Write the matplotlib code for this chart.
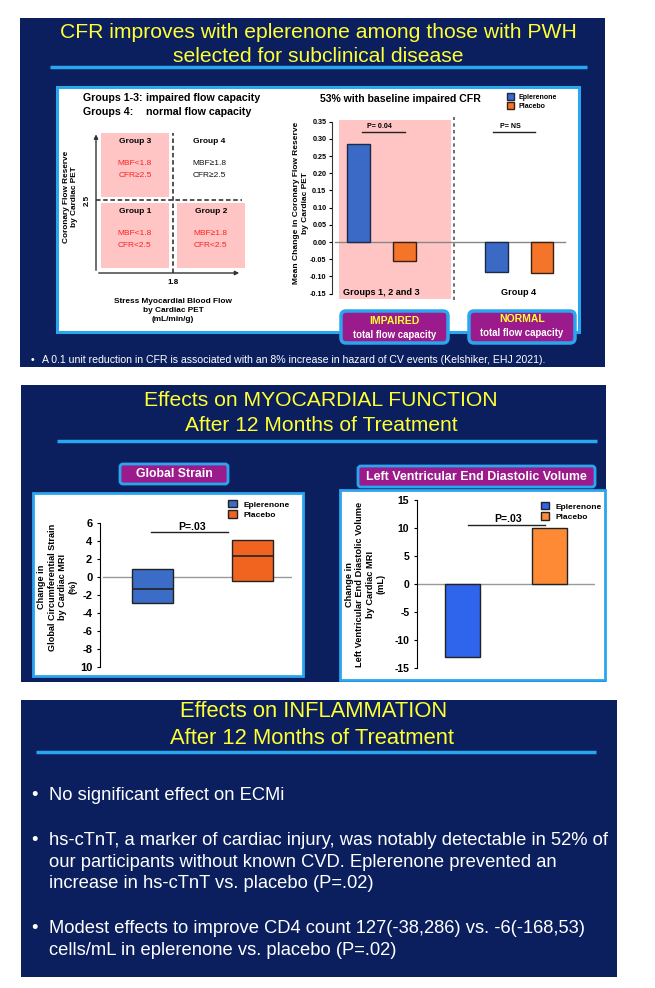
import matplotlib
matplotlib.use('Agg')
import matplotlib.pyplot as plt
from matplotlib import font_manager
from matplotlib.patches import Rectangle, FancyBboxPatch

# ---------------- data ----------------
# Panel 1 (left) - flow capacity diagram
mbf_threshold = 1.8
cfr_threshold = 2.5
quad_groups = ['Group 3', 'Group 4', 'Group 1', 'Group 2']
quad_mbf = ['MBF<1.8', 'MBF\u22651.8', 'MBF<1.8', 'MBF\u22651.8']
quad_cfr = ['CFR\u22652.5', 'CFR\u22652.5', 'CFR<2.5', 'CFR<2.5']

# Panel 1 (right) - change in CFR
cfr_categories = ['Groups 1, 2 and 3', 'Group 4']
cfr_eplerenone = [0.285, -0.087]
cfr_placebo = [-0.055, -0.090]
cfr_pvalues = ['P= 0.04', 'P= NS']
cfr_yticks = [-0.15, -0.10, -0.05, 0.00, 0.05, 0.10, 0.15, 0.20, 0.25, 0.30, 0.35]

# Panel 2 (left) - global circumferential strain (floating boxes)
series = ['Eplerenone', 'Placebo']
gcs_low = [-2.9, -0.4]
gcs_high = [0.9, 4.1]
gcs_mid = [-1.3, 2.3]
gcs_yticks = [-10, -8, -6, -4, -2, 0, 2, 4, 6]
gcs_yticklabels = ['10', '-8', '-6', '-4', '-2', '0', '2', '4', '6']
gcs_pvalue = 'P=.03'

# Panel 2 (right) - LVEDV
lvedv_values = [-13, 10]
lvedv_yticks = [-15, -10, -5, 0, 5, 10, 15]
lvedv_pvalue = 'P=.03'

# Panel 3 bullets
bullets = [
    ['No significant effect on ECMi'],
    ['hs-cTnT, a marker of cardiac injury, was notably detectable in 52% of',
     'our participants without known CVD. Eplerenone prevented an',
     'increase in hs-cTnT vs. placebo (P=.02)'],
    ['Modest effects to improve CD4 count 127(-38,286) vs. -6(-168,53)',
     'cells/mL in eplerenone vs. placebo (P=.02)'],
]

# ---------------- setup ----------------
W, H, DPI = 655, 988, 100
names = {f.name for f in font_manager.fontManager.ttflist}
SANS = 'Liberation Sans' if 'Liberation Sans' in names else 'DejaVu Sans'
plt.rcParams['font.family'] = [SANS, 'DejaVu Sans']

fig = plt.figure(figsize=(W / DPI, H / DPI), dpi=DPI, facecolor='white')
renderer = fig.canvas.get_renderer()

NAVY = '#0b1f5e'
LB = '#2aa6ee'
MAG = '#9c1b8c'
YEL = '#ffff33'
PINK = '#ffc4c4'

bg = fig.add_axes([0, 0, 1, 1])
bg.set_xlim(0, W)
bg.set_ylim(H, 0)
bg.axis('off')


def ax_px(l, t, r, b):
    a = fig.add_axes([l / W, 1 - b / H, (r - l) / W, (b - t) / H])
    a.set_facecolor('none')
    return a


def fsize(s, target, vertical=False, **kw):
    t = bg.text(0, 0, s, fontsize=10, rotation=90 if vertical else 0, **kw)
    bb = t.get_window_extent(renderer)
    t.remove()
    return 10 * target / (bb.height if vertical else bb.width)


def ftext(ax, x, y, s, target, vertical=False, **kw):
    kw.setdefault('ha', 'center')
    kw.setdefault('va', 'center')
    fs = fsize(s.split('\n')[0] if False else s, target, vertical=vertical,
               **{k: v for k, v in kw.items() if k in ('weight', 'family')})
    return ax.text(x, y, s, fontsize=fs, rotation=90 if vertical else 0, **kw)


def rect(x0, y0, x1, y1, **kw):
    bg.add_patch(Rectangle((x0, y0), x1 - x0, y1 - y0, **kw))


def rbox(x0, y0, x1, y1, r=4, **kw):
    bg.add_patch(FancyBboxPatch((x0, y0), x1 - x0, y1 - y0,
                                boxstyle=f'round,pad=0,rounding_size={r}', **kw))


def px2f(x, y):
    return x / W, 1 - y / H


# ================= PANEL 1 =================
rect(20, 18, 605, 367, fc=NAVY, ec='none')
ftext(bg, 318.5, 32, 'CFR improves with eplerenone among those with PWH', 517, color=YEL)
ftext(bg, 318, 56, 'selected for subclinical disease', 292, color=YEL)
bg.plot([50, 587], [67, 67], color=LB, lw=2.5, solid_capstyle='butt')
rect(57, 87, 579, 332, fc='white', ec=LB, lw=2.2, zorder=1)

# header texts
gs = fsize('Groups 1-3: impaired flow capacity', 176, weight='bold')
bg.text(83, 98, 'Groups 1-3:', fontsize=gs, weight='bold', va='center', zorder=3)
bg.text(146, 98, 'impaired flow capacity', fontsize=gs, weight='bold', va='center', zorder=3)
bg.text(83, 112, 'Groups 4:', fontsize=gs, weight='bold', va='center', zorder=3)
bg.text(146, 112, 'normal flow capacity', fontsize=gs, weight='bold', va='center', zorder=3)

# quadrant diagram
qa = ax_px(96, 133, 242, 273)
qx0, qx1 = 1.0, 2.52
qy0, qy1 = 1.5, 3.42
qa.set_xlim(qx0, qx1)
qa.set_ylim(qy0, qy1)
for s in qa.spines.values():
    s.set_visible(False)
gap_x, gap_y = 0.04, 0.045
boxes = [
    (qx0 + 0.05, mbf_threshold - gap_x, cfr_threshold + gap_y, qy1),      # group 3
    (mbf_threshold + gap_x, qx1, cfr_threshold + gap_y, qy1),              # group 4
    (qx0 + 0.05, mbf_threshold - gap_x, qy0 + 0.07, cfr_threshold - gap_y),  # group 1
    (mbf_threshold + gap_x, qx1 + 0.03, qy0 + 0.07, cfr_threshold - gap_y),  # group 2
]
gfs = fsize('Group 3', 32, weight='bold')
ms = fsize('MBF<1.8', 34)
for i, (x0, x1, y0, y1) in enumerate(boxes):
    impaired = i != 1
    if impaired:
        qa.add_patch(Rectangle((x0, y0), x1 - x0, y1 - y0, fc=PINK, ec='none',
                               clip_on=False, zorder=1))
    cx = (x0 + x1) / 2
    top = y1
    col = '#ff2020' if impaired else '#111111'
    qa.text(cx, top - 0.11, quad_groups[i], ha='center', va='center', weight='bold',
            fontsize=gfs, zorder=3)
    qa.text(cx, top - 0.42, quad_mbf[i], ha='center', va='center', color=col, fontsize=ms,
            zorder=3)
    qa.text(cx, top - 0.58, quad_cfr[i], ha='center', va='center', color=col, fontsize=ms,
            zorder=3)
qa.axvline(mbf_threshold, color='#444444', lw=1.3, ls=(0, (2.5, 1.5)), zorder=2)
qa.axhline(cfr_threshold, color='#444444', lw=1.3, ls=(0, (2.5, 1.5)), zorder=2)
qa.annotate('', xy=(qx0, qy1 + 0.02), xytext=(qx0, qy0), annotation_clip=False,
            arrowprops=dict(arrowstyle='-|>', color='#333333', lw=1, mutation_scale=6))
qa.annotate('', xy=(qx1, qy0), xytext=(qx0, qy0), annotation_clip=False,
            arrowprops=dict(arrowstyle='-|>', color='#333333', lw=1, mutation_scale=6))
qa.set_xticks([mbf_threshold])
qa.set_xticklabels(['1.8'], weight='bold', fontsize=5.8)
qa.set_yticks([cfr_threshold])
qa.set_yticklabels(['2.5'], weight='bold', fontsize=5.8, rotation=90, va='center')
qa.tick_params(length=0, pad=4)
ftext(bg, 70.5, 197, 'Coronary Flow Reserve\nby Cardiac PET', 92, vertical=True,
      weight='bold', linespacing=1.25)
ftext(bg, 173, 310.5, 'Stress Myocardial Blood Flow\nby Cardiac PET\n(mL/min/g)', 118,
      weight='bold', linespacing=1.4)

# CFR bar chart
ca = ax_px(332, 117, 568, 300)
ca.set_xlim(-0.36, 1.356)
ca.set_ylim(-0.1686, 0.3634)
ca.add_patch(Rectangle((-0.309, -0.166), 0.814, 0.521, fc=PINK, ec='none', zorder=0))
ca.axvline(0.527, color='#555555', lw=1.2, ls=(0, (2, 2)), zorder=1)
ca.axhline(0, xmin=3 / 236, xmax=233 / 236, color='#888888', lw=1, zorder=1)
xs = list(range(len(cfr_categories)))
off, bw = 0.167, 0.167
ca.bar([x - off for x in xs], cfr_eplerenone, width=bw, color='#3b69c6', ec='#1c2a4a',
       lw=1, zorder=2, label=series[0])
ca.bar([x + off for x in xs], cfr_placebo, width=bw, color='#f4742a', ec='#3a2010',
       lw=1, zorder=2, label=series[1])
for s in ['top', 'right', 'bottom']:
    ca.spines[s].set_visible(False)
ca.spines['left'].set_bounds(-0.15, 0.35)
ca.spines['left'].set_color('#333333')
ca.set_xticks([])
ca.set_yticks(cfr_yticks)
ca.set_yticklabels([f'{v:.2f}' for v in cfr_yticks], weight='bold', fontsize=5.2)
ca.tick_params(axis='y', length=2, width=0.8, pad=2)
cfs = fsize('Groups 1, 2 and 3', 77, weight='bold')
for i, name in enumerate(cfr_categories):
    ca.text(i, -0.148, name, ha='center', va='center', weight='bold', fontsize=cfs, zorder=3)
pline = [(-0.142, 0.171), (0.811, 1.116)]
pfs = fsize('P= 0.04', 25, weight='bold')
for i, p in enumerate(cfr_pvalues):
    ca.plot(pline[i], [0.32, 0.32], color='#222222', lw=1)
    ca.text(sum(pline[i]) / 2 - 0.03, 0.337, p, ha='center', va='center', weight='bold',
            fontsize=pfs)
lx, ly = px2f(507, 93.5)
ca.legend(loc='upper left', bbox_to_anchor=(lx, ly), bbox_transform=fig.transFigure,
          frameon=False, prop=dict(weight='bold', size=5), handlelength=1.0,
          handleheight=1.0, handletextpad=0.6, labelspacing=0.2, borderpad=0,
          borderaxespad=0)
ftext(bg, 301, 203, 'Mean Change in Coronary Flow Reserve\nby Cardiac PET', 160,
      vertical=True, weight='bold', linespacing=1.4)
ftext(bg, 400, 99, '53% with baseline impaired CFR', 162, weight='bold')

# impaired / normal boxes
rbox(341, 311, 448, 343, r=5, fc=MAG, ec=LB, lw=2.5, zorder=5)
rbox(469, 311, 575, 343, r=5, fc=MAG, ec=LB, lw=2.5, zorder=5)
bs = fsize('total flow capacity', 83, weight='bold')
bg.text(394.5, 320.5, 'IMPAIRED', color=YEL, weight='bold', fontsize=bs * 1.08,
        ha='center', va='center', zorder=6)
bg.text(394.5, 334.5, 'total flow capacity', color='white', weight='bold', fontsize=bs,
        ha='center', va='center', zorder=6)
bg.text(522, 318.5, 'NORMAL', color=YEL, weight='bold', fontsize=bs * 1.08,
        ha='center', va='center', zorder=6)
bg.text(522, 332.5, 'total flow capacity', color='white', weight='bold', fontsize=bs,
        ha='center', va='center', zorder=6)

# footnote
fn_text = ('A 0.1 unit reduction in CFR is associated with an 8% increase in hazard of CV '
           'events (Kelshiker, EHJ 2021).')
fns = fsize(fn_text, 507)
bg.text(31, 360, '\u2022', color='white', fontsize=fns, va='center')
bg.text(42, 360, fn_text, color='white', fontsize=fns, va='center')

# ================= PANEL 2 =================
rect(21, 385, 606, 682, fc=NAVY, ec='none')
ftext(bg, 321, 400, 'Effects on MYOCARDIAL FUNCTION', 354, color=YEL)
ftext(bg, 321, 425, 'After 12 Months of Treatment', 274, color=YEL)
bg.plot([57, 597], [441, 441], color=LB, lw=2.5, solid_capstyle='butt')
rbox(120, 464, 228, 484, r=3, fc=MAG, ec=LB, lw=2)
ftext(bg, 174, 474, 'Global Strain', 76, color='white', weight='bold')
rbox(358, 466, 595, 487, r=3, fc=MAG, ec=LB, lw=2)
ftext(bg, 476.5, 476.5, 'Left Ventricular End Diastolic Volume', 219, color='white',
      weight='bold')
rect(33, 493, 303, 676, fc='white', ec=LB, lw=2)
rect(340, 490, 605, 680, fc='white', ec=LB, lw=2)

# GCS chart
ga = ax_px(100, 514, 292, 669)
ga.set_xlim(-0.52, 1.39)
ga.set_ylim(-10.2, 7.0)
ga.axhline(0, xmin=3 / 192, xmax=1, color='#999999', lw=1, zorder=1)
gcol = ['#3a6cc8', '#f06420']
for i in range(len(series)):
    ga.bar(i, gcs_high[i] - gcs_low[i], bottom=gcs_low[i], width=0.41, color=gcol[i],
           ec='#222222', lw=1, zorder=2, label=series[i])
    ga.hlines(gcs_mid[i], i - 0.205, i + 0.205, color='#222222', lw=1.2, zorder=3)
for s in ['top', 'right', 'bottom']:
    ga.spines[s].set_visible(False)
ga.spines['left'].set_bounds(-10, 6)
ga.set_xticks([])
ga.set_yticks(gcs_yticks)
ga.set_yticklabels(gcs_yticklabels, weight='bold', fontsize=8)
ga.tick_params(axis='y', length=2.5, width=0.8, pad=3)
ga.plot([-0.015, 0.75], [5.0, 5.0], color='#222222', lw=1)
ga.text(0.4, 5.6, gcs_pvalue, ha='center', va='center', weight='bold',
        fontsize=fsize('P=.03', 28, weight='bold'))
lx, ly = px2f(228, 500)
ga.legend(loc='upper left', bbox_to_anchor=(lx, ly), bbox_transform=fig.transFigure,
          frameon=False, prop=dict(weight='bold', size=6), handlelength=1.1,
          handleheight=1.0, handletextpad=0.7, labelspacing=0.2, borderpad=0,
          borderaxespad=0)
ftext(bg, 57.5, 587, 'Change in\nGlobal Circumferential Strain\nby Cardiac MRI\n(%)', 126,
      vertical=True, weight='bold', linespacing=1.2)

# LVEDV chart
la = ax_px(417, 497, 595, 670)
la.set_xlim(-0.523, 1.523)
la.set_ylim(-15.4, 15.6)
la.axhline(0, xmin=0, xmax=1, color='#999999', lw=1, zorder=1)
lcol = ['#2f64ec', '#ff8a36']
for i in range(len(series)):
    la.bar(i, lvedv_values[i], width=0.40, color=lcol[i], ec='#222222', lw=1, zorder=2,
           label=series[i])
for s in ['top', 'right', 'bottom']:
    la.spines[s].set_visible(False)
la.spines['left'].set_bounds(-15, 15)
la.set_xticks([])
la.set_yticks(lvedv_yticks)
la.set_yticklabels([str(v) for v in lvedv_yticks], weight='bold', fontsize=7.5)
la.tick_params(axis='y', length=2.5, width=0.8, pad=3)
la.plot([0.06, 0.95], [10.6, 10.6], color='#222222', lw=1)
la.text(0.52, 11.6, lvedv_pvalue, ha='center', va='center', weight='bold',
        fontsize=fsize('P=.03', 28, weight='bold'))
lx, ly = px2f(541, 502)
la.legend(loc='upper left', bbox_to_anchor=(lx, ly), bbox_transform=fig.transFigure,
          frameon=False, prop=dict(weight='bold', size=6), handlelength=1.0,
          handleheight=1.0, handletextpad=0.8, labelspacing=0.2, borderpad=0,
          borderaxespad=0)
ftext(bg, 365, 584, 'Change in\nLeft Ventricular End Diastolic Volume\nby Cardiac MRI\n(mL)',
      165, vertical=True, weight='bold', linespacing=1.2)

# ================= PANEL 3 =================
rect(21, 700, 617, 977, fc=NAVY, ec='none')
ftext(bg, 313.5, 711, 'Effects on INFLAMMATION', 269, color=YEL)
ftext(bg, 312.5, 738, 'After 12 Months of Treatment', 287, color=YEL)
bg.plot([36, 596], [752, 752], color=LB, lw=2.5, solid_capstyle='butt')
bfs = fsize(bullets[1][0], 564)
line_y = [[795], [840, 862, 883], [928, 950]]
for blines, ys in zip(bullets, line_y):
    bg.text(31, ys[0], '\u2022', color='white', fontsize=bfs, va='center')
    for s, y in zip(blines, ys):
        bg.text(49, y, s, color='white', fontsize=bfs, va='center')

fig.savefig('out.png', dpi=DPI, facecolor='white')
